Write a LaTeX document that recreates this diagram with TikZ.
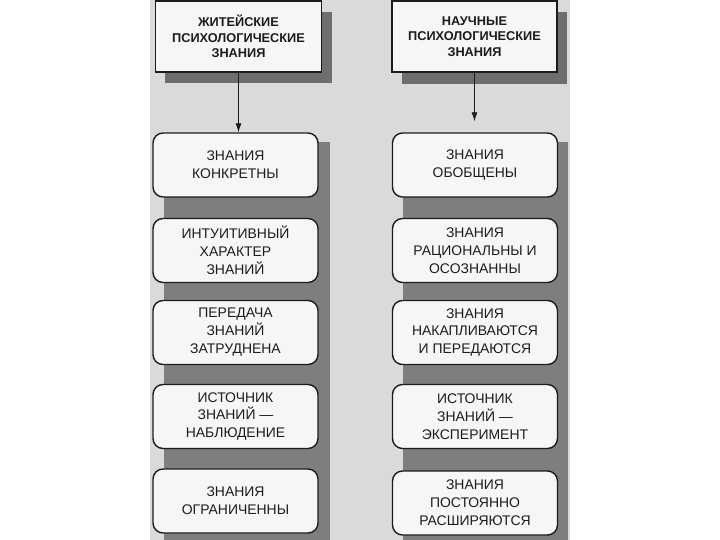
\documentclass[tikz,border=0pt]{standalone}
\usepackage{fontspec}
\setmainfont{Liberation Sans}
\usetikzlibrary{arrows.meta}
\definecolor{pagegrey}{HTML}{DADADA}
\definecolor{stripgrey}{HTML}{7E7E7E}
\definecolor{shadowgrey}{HTML}{6E6E6E}
\definecolor{boxfill}{HTML}{F6F6F6}
\definecolor{inkcol}{HTML}{1C1C1C}
\tikzset{
  headbox/.style={draw=inkcol, line width=1.4bp, fill=boxfill, minimum width=166bp, minimum height=71bp,
    inner sep=0pt, align=center, text=inkcol, font=\bfseries\fontsize{12.8}{15.5}\selectfont},
  itembox/.style={draw=inkcol, line width=1.4bp, fill=boxfill, rounded corners=10bp, minimum width=165bp,
    minimum height=64bp, inner sep=0pt, align=center, text=inkcol, font=\fontsize{14}{18}\selectfont},
  linkarrow/.style={draw=inkcol, line width=0.9bp, -{Latex[length=9bp,width=6bp]}},
}
\begin{document}
\begin{tikzpicture}[x=1bp,y=-1bp]
\useasboundingbox (0,0) rectangle (720,540);
% scanned page area
\fill[pagegrey] (150,0) rectangle (570,540);
% column strips
\fill[stripgrey] (164,142) rectangle (330,540);
\fill[stripgrey] (403,142) rectangle (568,540);
% header shadows
\fill[shadowgrey] (165,12) rectangle (332,83);
\fill[shadowgrey] (402,12) rectangle (567,84);
% headers
\node[headbox] (hl) at (238.5,36.5) {ЖИТЕЙСКИЕ\\ПСИХОЛОГИЧЕСКИЕ\\ЗНАНИЯ};
\node[headbox, minimum width=165bp] (hr) at (474.5,36.5) {НАУЧНЫЕ\\ПСИХОЛОГИЧЕСКИЕ\\ЗНАНИЯ};
% left column
\node[itembox] (l1) at (235.5,165) {ЗНАНИЯ\\КОНКРЕТНЫ};
\node[itembox] (l2) at (235.5,250.5) {ИНТУИТИВНЫЙ\\ХАРАКТЕР\\ЗНАНИЙ};
\node[itembox] (l3) at (235.5,332.5) {ПЕРЕДАЧА\\ЗНАНИЙ\\ЗАТРУДНЕНА};
\node[itembox] (l4) at (235.5,416.5) {ИСТОЧНИК\\ЗНАНИЙ —\\НАБЛЮДЕНИЕ};
\node[itembox] (l5) at (235.5,501) {ЗНАНИЯ\\ОГРАНИЧЕННЫ};
% right column
\node[itembox] (r1) at (475,165) {ЗНАНИЯ\\ОБОБЩЕНЫ};
\node[itembox] (r2) at (475,250.5) {ЗНАНИЯ\\РАЦИОНАЛЬНЫ И\\ОСОЗНАННЫ};
\node[itembox] (r3) at (475,332.5) {ЗНАНИЯ\\НАКАПЛИВАЮТСЯ\\И ПЕРЕДАЮТСЯ};
\node[itembox] (r4) at (475,416.5) {ИСТОЧНИК\\ЗНАНИЙ —\\ЭКСПЕРИМЕНТ};
\node[itembox] (r5) at (475,503) {ЗНАНИЯ\\ПОСТОЯННО\\РАСШИРЯЮТСЯ};
% arrows
\draw[linkarrow] (hl.south) -- (hl.south |- l1.north);
\draw[linkarrow, shorten >=11bp] (hr.south) -- (hr.south |- r1.north);
\end{tikzpicture}
\end{document}
